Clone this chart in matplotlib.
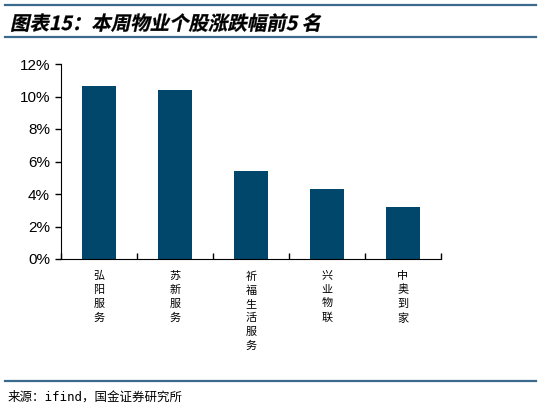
import numpy as np
import matplotlib.pyplot as plt
from matplotlib.lines import Line2D
from matplotlib.textpath import TextPath
from matplotlib.patches import PathPatch
from matplotlib.font_manager import FontProperties
from matplotlib.transforms import Affine2D

plt.rcParams['font.family'] = ['Liberation Sans', 'Noto Sans CJK SC', 'DejaVu Sans']

names = ['弘阳服务', '苏新服务', '祈福生活服务', '兴业物联', '中奥到家']
values = [10.65, 10.4, 5.42, 4.31, 3.2]
yticks = [0, 2, 4, 6, 8, 10, 12]
title = '图表15：本周物业个股涨跌幅前5 名'
source = '来源：ifind，国金证券研究所'

bar_color = '#00476B'
line_color = '#3A6A8C'

W, H = 541, 409
fig = plt.figure(figsize=(W / 100, H / 100), dpi=100)
ax = fig.add_axes([61 / W, 1 - 259 / H, 380 / W, 195 / H])

x = np.arange(len(names))
ax.bar(x, values, width=0.45, color=bar_color)
ax.set_xlim(-0.5, len(names) - 0.5)
ax.set_ylim(0, 12)
ax.set_yticks(yticks)
ax.set_yticklabels(['%d%%' % v for v in yticks], fontsize=11)

ax.spines['top'].set_visible(False)
ax.spines['right'].set_visible(False)
ax.tick_params(axis='y', direction='out', length=4, width=1, pad=4)

# x ticks at category borders, pointing up
ax.set_xticks(np.arange(-0.5, len(names)))
ax.set_xticklabels([])
ax.tick_params(axis='x', direction='in', length=4, width=1)
for i, n in enumerate(names):
    ax.text(i, -0.75, '\n'.join(n), ha='center', va='top', fontsize=8,
            family=['Noto Sans CJK SC'], linespacing=1.45)

# header / footer rules
for yp in [5, 37, 381]:
    fig.add_artist(Line2D([5 / W, 536 / W], [1 - yp / H, 1 - yp / H],
                          color=line_color, lw=1.6))

# italic bold title drawn as a skewed text path
tp = TextPath((0, 0), title, size=14,
              prop=FontProperties(family='Noto Sans CJK SC', weight='bold'))
tr = Affine2D().skew_deg(12, 0).scale(1 / 72).translate(10 / 100, (H - 30) / 100)
fig.add_artist(PathPatch(tp, transform=tr + fig.dpi_scale_trans,
                         color='black', lw=0.2))

fig.text(8 / W, 1 - 397 / H, source, fontsize=9, va='center',
         family=['DejaVu Sans Mono', 'Noto Sans CJK SC'])

fig.savefig('out.png', dpi=100)
